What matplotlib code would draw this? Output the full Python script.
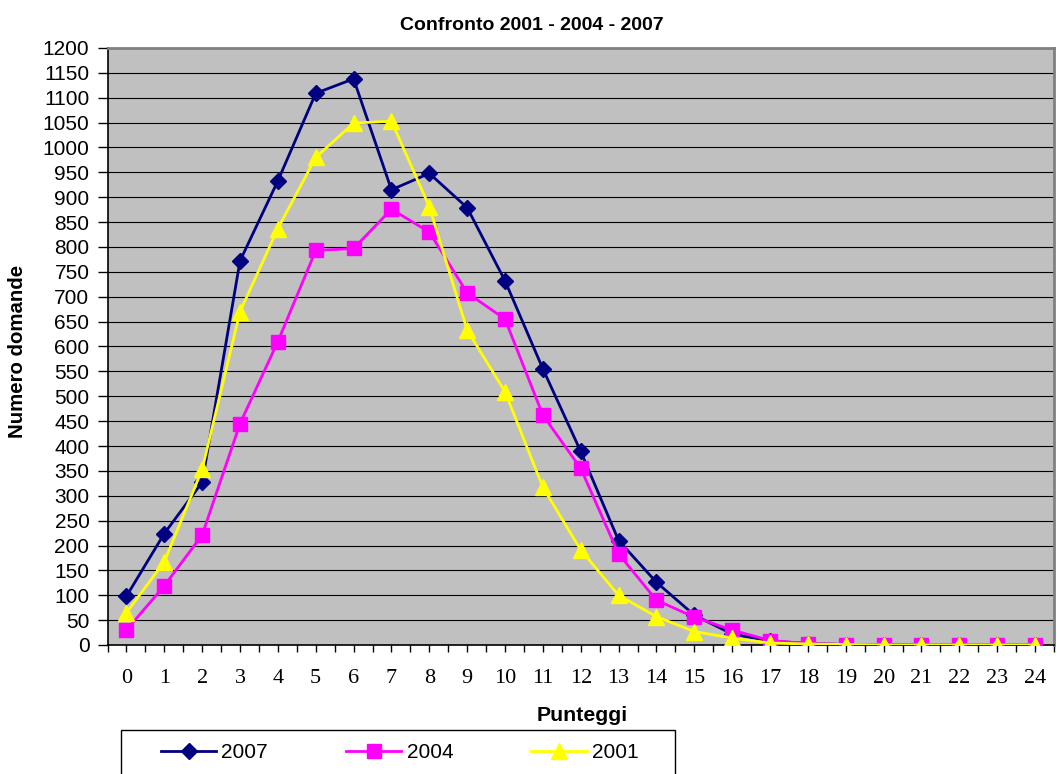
import matplotlib
matplotlib.use("Agg")
import matplotlib.pyplot as plt
from matplotlib.patches import Rectangle

scores = list(range(25))
score_labels = [str(s) for s in scores]
y2007 = [98, 224, 327, 772, 933, 1109, 1138, 915, 948, 879, 732, 555, 389, 210, 126, 60, 22, 8, 3, 1, 1, 0, 0, 0, 0]
y2004 = [30, 119, 221, 445, 610, 793, 797, 876, 830, 708, 655, 462, 355, 183, 90, 56, 30, 9, 3, 1, 1, 0, 0, 0, 0]
y2001 = [65, 167, 353, 670, 837, 980, 1049, 1053, 881, 633, 509, 317, 191, 100, 57, 27, 14, 4, 2, 1, 0, 0, 0, 0, 0]
yticks = list(range(0, 1201, 50))

W, H = 1057, 774
fig = plt.figure(figsize=(W / 100, H / 100), dpi=100)
ax = fig.add_axes([107.5 / W, 1 - 645 / H, 946.5 / W, 597 / H])
ax.set_facecolor("#C0C0C0")

sans = ["Liberation Sans", "DejaVu Sans"]
serif = ["Liberation Serif", "DejaVu Serif"]

l1, = ax.plot(scores, y2007, color="#000080", lw=2, marker="D", ms=8.5,
              markerfacecolor="#000080", markeredgecolor="#000080", label="2007", zorder=3)
l2, = ax.plot(scores, y2004, color="#FF00FF", lw=2, marker="s", ms=10.5,
              markerfacecolor="#FF00FF", markeredgecolor="#FF00FF", label="2004", zorder=4)
l3, = ax.plot(scores, y2001, color="#FFFF00", lw=2, marker="^", ms=11,
              markerfacecolor="#FFFF00", markeredgecolor="#FFFF00", label="2001", zorder=5)

ax.set_xlim(-0.5, 24.5)
ax.set_ylim(0, 1200)
ax.set_yticks(yticks)
ax.set_yticklabels([str(v) for v in yticks], fontfamily=sans, fontsize=15)
ax.yaxis.grid(True, color="black", lw=0.8)
ax.set_axisbelow(True)

ax.set_xticks(scores)
ax.set_xticklabels(score_labels, fontfamily=serif, fontsize=16)
ax.set_xticks([s - 0.5 for s in scores] + [24.5], minor=True)
ax.tick_params(axis="x", which="both", direction="out", length=5, width=1, colors="black", pad=12)
ax.tick_params(axis="y", direction="out", length=7, width=1, pad=6)

for side in ("top", "right"):
    ax.spines[side].set_color("#808080")
    ax.spines[side].set_linewidth(2)
for side in ("left", "bottom"):
    ax.spines[side].set_color("black")
    ax.spines[side].set_linewidth(1.2)

ax.set_ylabel("Numero domande", fontfamily=sans, fontsize=14.7, fontweight="bold", va="center")
ax.yaxis.set_label_coords(-0.0946, 0.4916)
ax.set_xlabel("Punteggi", fontfamily=sans, fontsize=15.3, fontweight="bold", va="center")
ax.xaxis.set_label_coords(0.502, -0.1173)

fig.text(531.5 / W, 1 - 25 / H, "Confronto 2001 - 2004 - 2007", ha="center", va="center",
         fontfamily=sans, fontsize=14, fontweight="bold")

leg = fig.legend(handles=[l1, l2, l3], loc="center left", bbox_to_anchor=(161 / W, 1 - 753 / H),
                 ncol=3, frameon=False, borderpad=0, borderaxespad=0,
                 handlelength=2.65, handletextpad=0.25, columnspacing=3.75,
                 prop={"family": sans, "size": 15})
fig.patches.append(Rectangle((121 / W, 1 - 800 / H), 554 / W, 70 / H, transform=fig.transFigure,
                             facecolor="none", edgecolor="black", lw=1))

fig.savefig("out.png", dpi=100)
